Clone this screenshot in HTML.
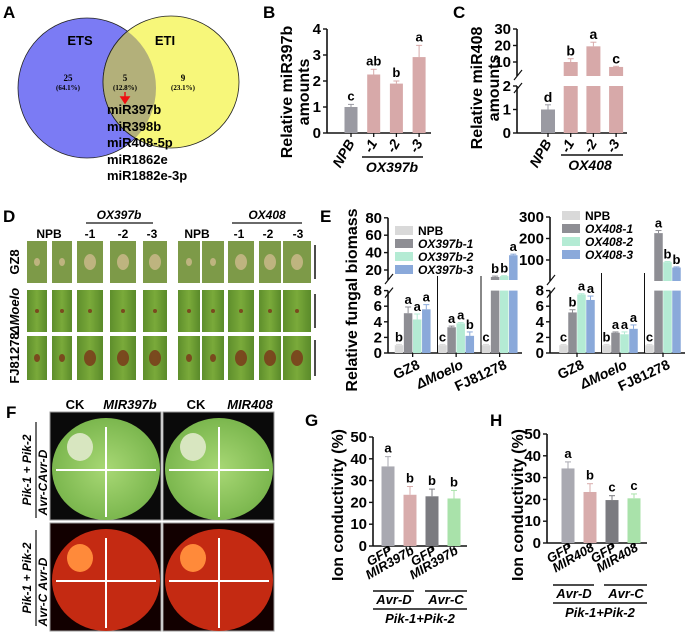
<!DOCTYPE html>
<html><head><meta charset="utf-8"><style>
html,body{margin:0;padding:0;background:#fff;}
svg{display:block;font-family:"Liberation Sans",Arial,sans-serif;}
text{font-weight:bold;}
</style></head><body>
<svg id="fig" width="685" height="636" viewBox="0 0 685 636" xmlns="http://www.w3.org/2000/svg">
<defs>
<radialGradient id="leafG" cx="50%" cy="50%" r="60%"><stop offset="0" stop-color="#a8d875"/><stop offset="1" stop-color="#72b046"/></radialGradient>
<linearGradient id="riceG" x1="0" x2="1"><stop offset="0" stop-color="#5e8e2c"/><stop offset="0.5" stop-color="#7aaa3a"/><stop offset="1" stop-color="#5a8a2a"/></linearGradient>
</defs>
<g>
<text x="3" y="18" font-size="17">A</text>
<ellipse cx="87" cy="88" rx="69" ry="70" fill="#7b7bf4" stroke="#222" stroke-width="0.8"/>
<ellipse cx="171" cy="82" rx="68" ry="66" fill="#f7f77a" stroke="#222" stroke-width="0.8"/>
<clipPath id="cl"><ellipse cx="87" cy="88" rx="69" ry="70"/></clipPath>
<ellipse cx="171" cy="82" rx="68" ry="66" fill="#b3b07a" clip-path="url(#cl)" stroke="#222" stroke-width="0.8"/>
<text x="80" y="45" font-size="13" text-anchor="middle">ETS</text>
<text x="165" y="45" font-size="13" text-anchor="middle">ETI</text>
<g font-family="Liberation Serif,serif" font-size="9" text-anchor="middle">
<text x="68" y="81">25</text><text x="68" y="90" font-size="7" font-weight="normal">(64.1%)</text>
<text x="125" y="81">5</text><text x="125" y="90" font-size="7" font-weight="normal">(12.8%)</text>
<text x="183" y="81">9</text><text x="183" y="90" font-size="7" font-weight="normal">(23.1%)</text>
</g>
<path d="M125 92 V99 M121 97 L125 103 L129 97 Z" stroke="#e11" fill="#e11" stroke-width="1.5"/>
<g font-size="13">
<text x="107" y="114">miR397b</text><text x="107" y="131">miR398b</text><text x="107" y="147">miR408-5p</text><text x="107" y="164" style="font-weight:600">miR1862e</text><text x="107" y="180" style="font-weight:600">miR1882e-3p</text>
</g>
</g>
<text x="263" y="18" font-size="17">B</text>
<text x="453" y="18" font-size="17">C</text>
<text x="3" y="222" font-size="17">D</text>
<text x="320" y="222" font-size="17">E</text>
<text x="6" y="418" font-size="17">F</text>
<text x="305" y="426" font-size="17">G</text>
<text x="490" y="426" font-size="17">H</text>
<g id="dpanel"></g>
<g id="fpanel"></g>
<g id="charts"></g>
</svg>
<script>
// ---------- chart data ----------
const bCats=['NPB','-1','-2','-3'];
const bVals=[1.0,2.25,1.9,2.92];
const bErr=[0.1,0.2,0.1,0.45];
const bLet=['c','ab','b','a'];
const bTicks=[0,1,2,3,4];
const cCats=['NPB','-1','-2','-3'];
const cVals=[1.0,10,19.5,7];
const cErr=[0.2,2,2.5,0.4];
const cLet=['d','b','a','c'];
const cTicksLow=[0,1,2];
const cTicksHigh=[10,20,30];
const eGroups=['GZ8','\u0394Moelo','FJ81278'];
const e1Series=['NPB','OX397b-1','OX397b-2','OX397b-3'];
const e1NPB=[1,1,1];
const e1S1=[5.1,3.3,12];
const e1S2=[4.3,3.8,13];
const e1S3=[5.6,2.2,37];
const e1Err=[[0.1,0.8,0.7,0.6],[0.1,0.15,0.1,0.5],[0.1,1,0.5,1.2]];
const e1Let=[['b','a','a','a'],['c','a','a','b'],['c','b','b','a']];
const e1TicksLow=[0,2,4,6,8];
const e1TicksHigh=[20,40,60,80];
const e2Series=['NPB','OX408-1','OX408-2','OX408-3'];
const e2NPB=[1,1,1];
const e2S1=[5.2,2.6,225];
const e2S2=[7.5,2.4,90];
const e2S3=[6.8,3.1,65];
const e2Err=[[0.1,0.35,0.1,0.5],[0.1,0.1,0.3,0.5],[0.1,12,3,3]];
const e2Let=[['c','b','a','a'],['b','a','a','a'],['c','a','b','b']];
const e2TicksLow=[0,2,4,6,8];
const e2TicksHigh=[100,200,300];
const gCats=['GFP','MIR397b','GFP','MIR397b'];
const gVals=[36.5,23.5,22.8,21.8];
const gErr=[4.5,3.8,3.3,3.7];
const gLet=['a','b','b','b'];
const hCats=['GFP','MIR408','GFP','MIR408'];
const hVals=[34.2,23.4,19.7,20.5];
const hErr=[3,3.8,2,2];
const hLet=['a','b','c','c'];
const ionTicks=[0,10,20,30,40,50];

const NS='http://www.w3.org/2000/svg';
const root=document.getElementById('charts');
function mk(tag,attrs,name,parent){
  const e=document.createElementNS(NS,tag);
  for(const k in attrs) e.setAttribute(k,attrs[k]);
  
  
  (parent||root).appendChild(e);
  return e;
}
function tx(x,y,s,size,name,extra,parent){
  const a=Object.assign({x:x,y:y,'font-size':size},extra||{});
  const t=mk('text',a,name,parent);
  t.textContent=s;
  return t;
}
function line(x1,y1,x2,y2,name,w,parent,col){
  return mk('line',{x1:x1,y1:y1,x2:x2,y2:y2,stroke:col||'#111','stroke-width':w||1.5},name,parent);
}
function errBar(x,yTop,yErr,name,col){
  line(x,yTop,x,yErr,name,1,null,col);
  line(x-3,yErr,x+3,yErr,name+'-cap',1,null,col);
}

// ---------- simple chart (B, G, H) ----------
function simpleChart(o){
  const y=v=>o.y0-(v-0)*(o.y0-o.yMax)/o.vMax;
  line(o.ax,y(0),o.ax,y(o.vMax),o.id+'-y-axis',1.6);
  line(o.ax,y(0),o.ax+o.axLen,y(0),o.id+'-x-axis',1.6);
  o.ticks.forEach(t=>{
    line(o.ax-4,y(t),o.ax,y(t),o.id+'-y-tick',1.4);
    tx(o.ax-6,y(t)+5,String(t),o.tickSize,o.id+'-y-tick-label',{'text-anchor':'end'});
  });
  o.vals.forEach((v,i)=>{
    const cx=o.x0+i*o.step;
    const col=o.colors[i];
    mk('rect',{x:cx-o.bw/2,y:y(v),width:o.bw,height:y(0)-y(v),fill:col},o.id+'-bar-'+i);
    errBar(cx,y(v),y(v+o.errs[i]),o.id+'-error-'+i,col);
    tx(cx,y(v+o.errs[i])-4,o.lets[i],13,o.id+'-sig-letter',{'text-anchor':'middle'});
    line(cx,y(0),cx,y(0)+4,o.id+'-x-tick',1.3);
  });
}
// B
simpleChart({id:'b',ax:327,axLen:104,y0:133,yMax:29,vMax:4,ticks:bTicks,vals:bVals,errs:bErr,lets:bLet,x0:351,step:22.7,bw:13,tickSize:15,
  colors:['#9a9aa2','#d7a9a9','#d7a9a9','#d7a9a9']});
bCats.forEach((c,i)=>{tx(0,0,c,14,'b-x-label',{'text-anchor':'end','font-style':'italic',transform:'translate('+(355+i*22.7)+',143) rotate(-60)'});});
line(362,157,423,157,'b-ox397b-underline',1.5);
tx(392,172,'OX397b',14,'b-group-label',{'text-anchor':'middle','font-style':'italic'});
tx(0,0,'Relative miR397b',16,'b-y-title-1',{'text-anchor':'middle',transform:'translate(292,92) rotate(-90)'});
tx(0,0,'amounts',16,'b-y-title-2',{'text-anchor':'middle',transform:'translate(309,92) rotate(-90)'});

// ---------- broken-axis chart helper ----------
function brokenAxis(o){
  line(o.ax,o.yL(0),o.ax,o.yL(o.lowMax),o.id+'-y-axis-low',1.6);
  line(o.ax,o.upBottom,o.ax,o.yU(o.highMax),o.id+'-y-axis-high',1.6);
  line(o.ax-3,o.yL(o.lowMax)+7,o.ax+5,o.yL(o.lowMax)-3,o.id+'-break-mark',1.2);
  line(o.ax-3,o.upBottom+4,o.ax+5,o.upBottom-6,o.id+'-break-mark',1.2);
  o.ticksLow.forEach(t=>{line(o.ax-4,o.yL(t),o.ax,o.yL(t),o.id+'-y-tick',1.4);
    tx(o.ax-6,o.yL(t)+5,String(t),o.tickSize,o.id+'-y-tick-label',{'text-anchor':'end'});});
  o.ticksHigh.forEach(t=>{line(o.ax-4,o.yU(t),o.ax,o.yU(t),o.id+'-y-tick',1.4);
    tx(o.ax-6,o.yU(t)+5,String(t),o.tickSize,o.id+'-y-tick-label',{'text-anchor':'end'});});
  line(o.ax,o.yL(0),o.ax+o.axLen,o.yL(0),o.id+'-x-axis',1.6);
}
function brokenBar(o,cx,bw,v,err,let,col,name){
  if(v<=o.lowMax){
    mk('rect',{x:cx-bw/2,y:o.yL(v),width:bw,height:o.yL(0)-o.yL(v),fill:col},name);
    errBar(cx,o.yL(v),o.yL(v+err),name+'-error',col);
    tx(cx,o.yL(v+err)-3,let,o.letSize,name+'-letter',{'text-anchor':'middle'});
  } else {
    mk('rect',{x:cx-bw/2,y:o.yL(o.lowMax),width:bw,height:o.yL(0)-o.yL(o.lowMax),fill:col},name+'-low');
    mk('rect',{x:cx-bw/2,y:o.yU(v),width:bw,height:o.upBottom-o.yU(v),fill:col},name+'-high');
    errBar(cx,o.yU(v),o.yU(v+err),name+'-error',col);
    tx(cx,o.yU(v+err)-3,let,o.letSize,name+'-letter',{'text-anchor':'middle'});
  }
}
// C
const cO={id:'c',ax:517,axLen:110,lowMax:2,highMax:30,upBottom:76,tickSize:15,letSize:14,ticksLow:cTicksLow,ticksHigh:cTicksHigh,
  yL:v=>133-v*23.5, yU:v=>62-(v-10)*1.65};
brokenAxis(cO);
const cCols=['#9a9aa2','#d7a9a9','#d7a9a9','#d7a9a9'];
cVals.forEach((v,i)=>{const cx=548+i*22.7;brokenBar(cO,cx,14,v,cErr[i],cLet[i],cCols[i],'c-bar-'+i);line(cx,133,cx,137,'c-x-tick',1.3);});
cCats.forEach((c,i)=>{tx(0,0,c,14,'c-x-label',{'text-anchor':'end','font-style':'italic',transform:'translate('+(552+i*22.7)+',143) rotate(-60)'});});
line(561,155,623,155,'c-ox408-underline',1.5);
tx(590,170,'OX408',14,'c-group-label',{'text-anchor':'middle','font-style':'italic'});
tx(0,0,'Relative miR408',16,'c-y-title-1',{'text-anchor':'middle',transform:'translate(482,88) rotate(-90)'});
tx(0,0,'amounts',16,'c-y-title-2',{'text-anchor':'middle',transform:'translate(499,88) rotate(-90)'});

// E
const eCols=['#d9d9d9','#8e8e94','#b4ebd4','#8aa9da'];
function eChart(o,series,sets,errs,lets,legendX,legendY,legendStep){
  brokenAxis(o);
  eGroups.forEach((g,gi)=>{
    sets.forEach((arr,si)=>{
      const cx=o.gx0+gi*o.gStep+si*o.bStep;
      brokenBar(o,cx,o.bw,arr[gi],errs[gi][si],lets[gi][si],eCols[si],o.id+'-bar-'+g+'-'+si);
    });
    const mid=o.gx0+gi*o.gStep+1.5*o.bStep;
    line(mid,o.yL(0),mid,o.yL(0)+4,o.id+'-x-tick',1.3);
    tx(0,0,g,14,o.id+'-x-label',{'text-anchor':'end','font-style':g.startsWith('\u0394')?'italic':'normal',transform:'translate('+(mid+8)+',368) rotate(-25)'});
    if(gi>0) line(o.gx0+gi*o.gStep-5,o.yL(0),o.gx0+gi*o.gStep-5,o.sepTop,o.id+'-separator',1);
  });
  series.forEach((s,si)=>{
    const y=legendY+si*legendStep;
    mk('rect',{x:legendX,y:y-8,width:18,height:9,fill:eCols[si]},o.id+'-legend-swatch');
    tx(legendX+23,y+1,s,12,o.id+'-legend-entry',{'font-style':si?'italic':'normal'});
  });
}
const e1O={id:'e1',ax:388,axLen:134,lowMax:8,highMax:80,upBottom:280,tickSize:15,letSize:13,ticksLow:e1TicksLow,ticksHigh:e1TicksHigh,
  yL:v=>353-v*7.8, yU:v=>270-(v-20)*0.87, gx0:399, gStep:43.5, bStep:9.1, bw:8.5, sepTop:276};
eChart(e1O,e1Series,[e1NPB,e1S1,e1S2,e1S3],e1Err,e1Let,395,234,13);
const e2O={id:'e2',ax:550,axLen:135,lowMax:8,highMax:300,upBottom:281,tickSize:15,letSize:13,ticksLow:e2TicksLow,ticksHigh:e2TicksHigh,
  yL:v=>353-v*7.8, yU:v=>260-(v-100)*0.215, gx0:563.5, gStep:43, bStep:9, bw:8.5, sepTop:273};
eChart(e2O,e2Series,[e2NPB,e2S1,e2S2,e2S3],e2Err,e2Let,562,219,13);
tx(0,0,'Relative fungal biomass',16,'e-y-title',{'text-anchor':'middle',transform:'translate(357,300) rotate(-90)'});

// G & H
const ionCols=['#a9a9b1','#d8acac','#7b7b80','#a9e2aa'];
simpleChart({id:'g',ax:373,axLen:94,y0:546,yMax:437,vMax:50,ticks:ionTicks,vals:gVals,errs:gErr,lets:gLet,x0:388,step:22,bw:13,tickSize:15,colors:ionCols});
gCats.forEach((c,i)=>{tx(0,0,c,13,'g-x-label',{'text-anchor':'end','font-style':'italic',transform:'translate('+(393+i*22)+',553) rotate(-30)'});});
line(373,591,414,591,'g-avrd-underline',1.4);line(425,591,467,591,'g-avrc-underline',1.4);
tx(394,604,'Avr-D',13,'g-avrd-label',{'text-anchor':'middle','font-style':'italic'});
tx(446,604,'Avr-C',13,'g-avrc-label',{'text-anchor':'middle','font-style':'italic'});
line(373,609,467,609,'g-pik-underline',1.4);
tx(420,623,'Pik-1+Pik-2',13,'g-pik-label',{'text-anchor':'middle','font-style':'italic'});
tx(0,0,'Ion conductivity (%)',16,'g-y-title',{'text-anchor':'middle',transform:'translate(343,505) rotate(-90)'});
simpleChart({id:'h',ax:547,axLen:100,y0:543,yMax:434,vMax:50,ticks:ionTicks,vals:hVals,errs:hErr,lets:hLet,x0:568,step:22,bw:13,tickSize:15,colors:ionCols});
hCats.forEach((c,i)=>{tx(0,0,c,13,'h-x-label',{'text-anchor':'end','font-style':'italic',transform:'translate('+(573+i*22)+',550) rotate(-30)'});});
line(553,585,594,585,'h-avrd-underline',1.4);line(604,585,647,585,'h-avrc-underline',1.4);
tx(574,598,'Avr-D',13,'h-avrd-label',{'text-anchor':'middle','font-style':'italic'});
tx(626,598,'Avr-C',13,'h-avrc-label',{'text-anchor':'middle','font-style':'italic'});
line(553,603,647,603,'h-pik-underline',1.4);
tx(600,617,'Pik-1+Pik-2',13,'h-pik-label',{'text-anchor':'middle','font-style':'italic'});
tx(0,0,'Ion conductivity (%)',16,'h-y-title',{'text-anchor':'middle',transform:'translate(523,505) rotate(-90)'});

// ---------- D photos ----------
const dp=document.getElementById('dpanel');
const rows=[[241,283,'GZ8'],[290,332,'\u0394Moelo'],[336,380,'FJ81278']];
const leafL=[[27,47],[52,72],[77,103],[110,136],[143,167]];
const leafR=[[178,200],[202,224],[228,254],[259,281],[283,311]];
rows.forEach((r,ri)=>{
  leafL.concat(leafR).forEach((l,li)=>{
    mk('rect',{x:l[0],y:r[0],width:l[1]-l[0],height:r[1]-r[0],fill:ri===0?'#7d9a48':'url(#riceG)'},'rice-leaf',dp);
    const big=(li%5)>=2;
    mk('ellipse',{cx:(l[0]+l[1])/2,cy:(r[0]+r[1])/2,rx:ri===1?2:(big?6:3),ry:ri===1?2:(big?8:4),fill:ri===0?'#c9b98a':'#7a3a1a',opacity:0.85},'lesion',dp);
  });
  line(315,r[0]+4,315,r[1]-4,'scale-bar',1.5,dp);
  tx(0,0,r[2],13,'row-label-'+ri,{'text-anchor':'middle','font-style':ri===1?'italic':'normal',transform:'translate(19,'+((r[0]+r[1])/2)+') rotate(-90)'},dp);
});
[['NPB',49],['-1',90],['-2',123],['-3',152],['NPB',197],['-1',239],['-2',268],['-3',298]].forEach(h=>tx(h[1],238,h[0],12,'d-column-label',{'text-anchor':'middle'},dp));
line(86,223,153,223,'d-ox397b-underline',1.2,dp);line(232,223,302,223,'d-ox408-underline',1.2,dp);
tx(119,219,'OX397b',12,'d-ox397b-label',{'text-anchor':'middle','font-style':'italic'},dp);
tx(267,219,'OX408',12,'d-ox408-label',{'text-anchor':'middle','font-style':'italic'},dp);

// ---------- F photos ----------
const fp=document.getElementById('fpanel');
[[50,412,'green'],[163,412,'green'],[50,523,'red'],[163,523,'red']].forEach((b,bi)=>{
  const g=b[2]==='green';
  mk('rect',{x:b[0],y:b[1],width:111,height:108,fill:g?'#0a0a0a':'#120000',stroke:'#999','stroke-width':1},'leaf-photo-'+bi,fp);
  mk('ellipse',{cx:b[0]+56,cy:b[1]+57,rx:54,ry:51,fill:g?'url(#leafG)':'#c42a12'},'tobacco-leaf',fp);
  mk('ellipse',{cx:b[0]+30,cy:b[1]+35,rx:13,ry:14,fill:g?'#d8e6c0':'#ff8a3a'},'hr-lesion',fp);
  line(b[0]+56,b[1]+15,b[0]+56,b[1]+105,'white-cross-v',2,fp,'#fff');
  line(b[0]+6,b[1]+58,b[0]+106,b[1]+58,'white-cross-h',2,fp,'#fff');
});
[['CK',75],['MIR397b',130],['CK',196],['MIR408',250]].forEach(h=>tx(h[1],409,h[0],13,'f-column-label',{'text-anchor':'middle','font-style':h[0]==='CK'?'normal':'italic'},fp));
[[466,'Avr-D'],[499,'Avr-C'],[574,'Avr-D'],[610,'Avr-C']].forEach(a=>tx(0,0,a[1],12,'f-avr-label',{'text-anchor':'middle','font-style':'italic',transform:'translate(47,'+a[0]+') rotate(-90)'},fp));
[470,578].forEach(y=>{
  tx(0,0,'Pik-1 + Pik-2',12,'f-pik-label',{'text-anchor':'middle','font-style':'italic',transform:'translate(31,'+y+') rotate(-90)'},fp);
  line(36,y-48,36,y+48,'f-divider',1.2,fp);
});
</script>
</body></html>
